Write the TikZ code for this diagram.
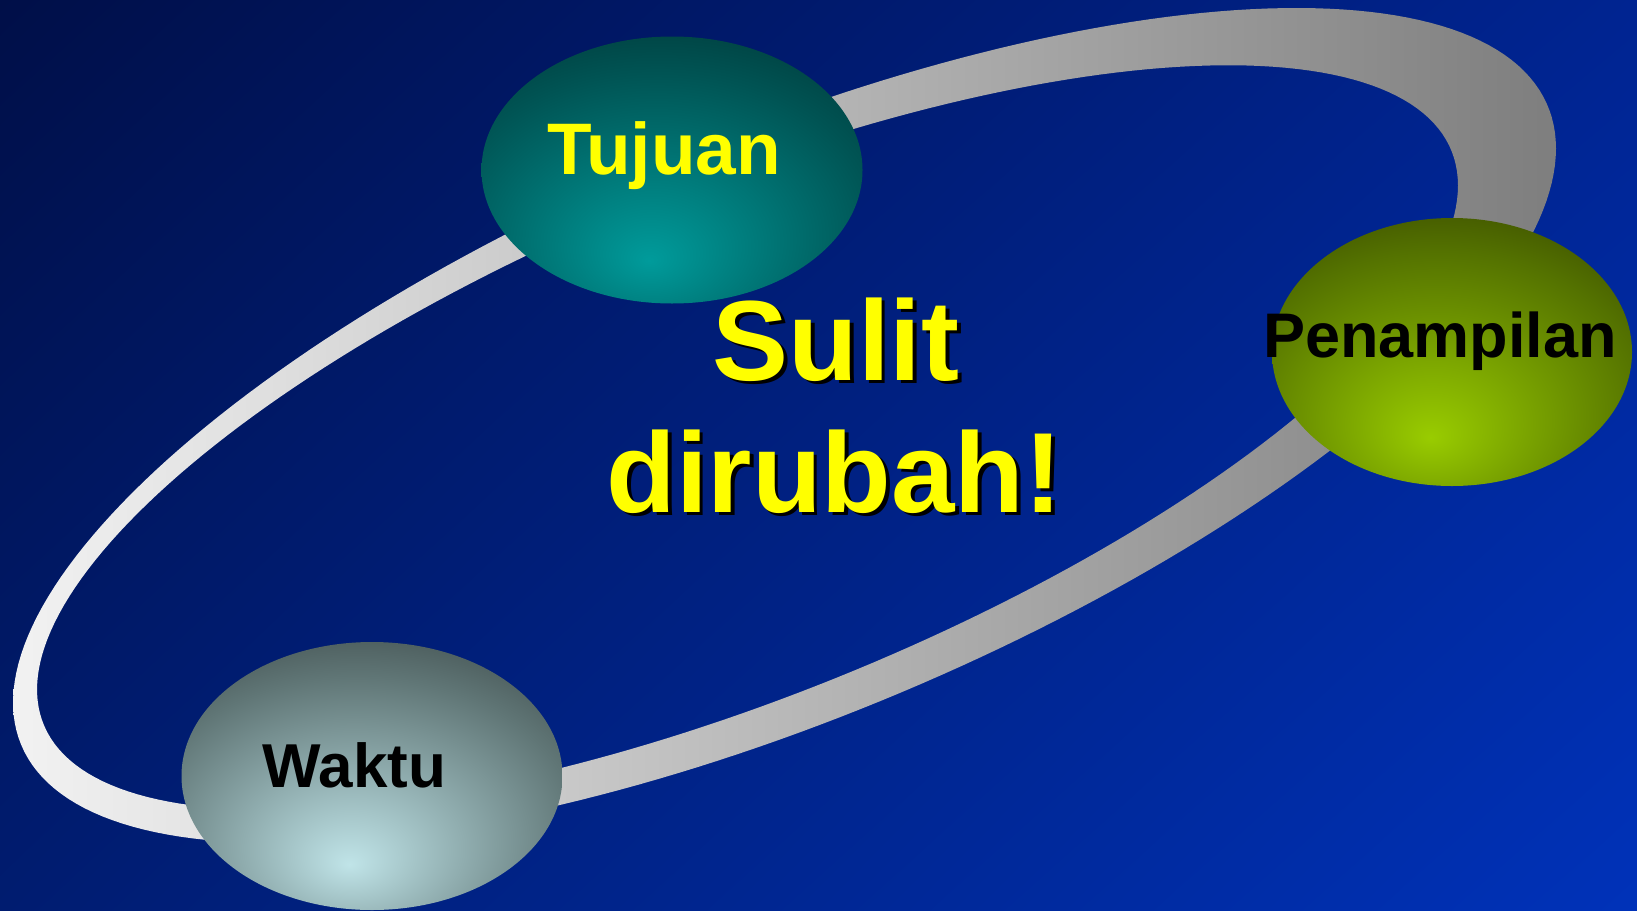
\documentclass[tikz,border=0pt]{standalone}
\usepackage{fontspec}
\setmainfont{Liberation Sans}
\usetikzlibrary{shapes.geometric,shadings}

\definecolor{bgUL}{RGB}{0,15,72}
\definecolor{bgUR}{RGB}{0,36,145}
\definecolor{bgLL}{RGB}{0,28,112}
\definecolor{bgLR}{RGB}{0,50,185}
\definecolor{ringL}{RGB}{242,242,242}
\definecolor{ringR}{RGB}{126,126,126}
\definecolor{tujA}{RGB}{0,155,155}
\definecolor{tujB}{RGB}{0,84,84}
\definecolor{tujC}{RGB}{0,52,52}
\definecolor{penA}{RGB}{153,204,0}
\definecolor{penB}{RGB}{84,114,0}
\definecolor{penC}{RGB}{54,68,0}
\definecolor{wakA}{RGB}{192,228,232}
\definecolor{wakB}{RGB}{96,118,118}
\definecolor{wakC}{RGB}{58,70,70}
\definecolor{txtyellow}{RGB}{255,255,0}

\pgfdeclareradialshading{tujshade}{\pgfpoint{-3bp}{-17bp}}{color(0bp)=(tujA); color(29bp)=(tujB); color(43bp)=(tujC); color(80bp)=(tujC)}
\pgfdeclareradialshading{penshade}{\pgfpoint{-3bp}{-16bp}}{color(0bp)=(penA); color(29bp)=(penB); color(42bp)=(penC); color(80bp)=(penC)}
\pgfdeclareradialshading{wakshade}{\pgfpoint{-3bp}{-16.5bp}}{color(0bp)=(wakA); color(29bp)=(wakB); color(42bp)=(wakC); color(80bp)=(wakC)}

\begin{document}
\begin{tikzpicture}[x=1pt,y=-1pt,
  blob/.style={ellipse, inner sep=0pt, outer sep=0pt, shade},
  lbl/.style={anchor=base, inner sep=0pt, font=\bfseries\fontsize{#1}{#1}\selectfont},
  bigtext/.style={anchor=base, inner sep=0pt, font=\bfseries\fontsize{114}{114}\selectfont}]

\useasboundingbox (0,0) rectangle (1637,910);

% background
\shade[upper left=bgUL, upper right=bgUR, lower left=bgLL, lower right=bgLR]
  (0,0) rectangle (1637,910);

% ring: outer and inner boundaries are tilted ellipses
\shade[even odd rule, left color=ringL, right color=ringR]
  plot[domain=0:360, samples=240, variable=\t]
    ({784.5+771.5*cos(\t)}, {425.5-277*cos(\t)+312.4*sin(\t)}) -- cycle
  plot[domain=0:360, samples=240, variable=\t]
    ({747.5+710.5*cos(\t)}, {437.5-252*cos(\t)+274*sin(\t)}) -- cycle;

% ellipses
\node[blob, shading=tujshade, minimum width=381pt, minimum height=267pt] (tujuan) at (672,170) {};
\node[blob, shading=penshade, minimum width=360pt, minimum height=268pt] (penampilan) at (1452,352) {};
\node[blob, shading=wakshade, minimum width=381pt, minimum height=268pt] (waktu) at (372,776) {};

% labels
\node[lbl=73, text=txtyellow] (tujuantext) at (664,174) {Tujuan};
\node[lbl=63, text=black] (penampilantext) at (1440,357) {Penampilan};
\node[lbl=62, text=black] (waktutext) at (354.5,787) {Waktu};

% central text with shadow
\node[bigtext, text=black] (sulitshadow) at (839.5,383.5) {Sulit};
\node[bigtext, text=txtyellow] (sulit) at (836,380) {Sulit};
\node[bigtext, text=black] (dirubahshadow) at (838,515.5) {dirubah!};
\node[bigtext, text=txtyellow] (dirubah) at (834.5,512) {dirubah!};

\end{tikzpicture}
\end{document}
